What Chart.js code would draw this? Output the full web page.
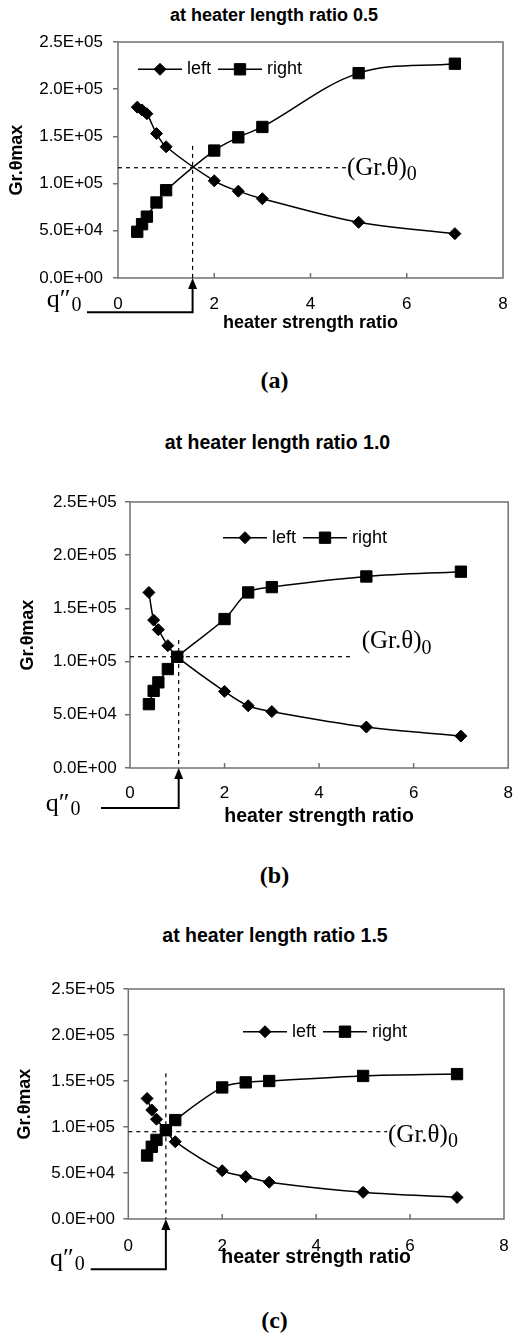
<!DOCTYPE html>
<html>
<head>
<meta charset="utf-8">
<title>Gr.θmax vs heater strength ratio</title>
<script src="https://cdn.jsdelivr.net/npm/chart.js"></script>
<style>
    body { margin: 0; background: #fff; }
    #page { position: relative; width: 528px; height: 1341px; overflow: hidden; background: #fff; }
    #page canvas { position: absolute; left: 0; }
    .panelTitle { position: absolute; width: 400px; text-align: center; font-family: "Liberation Sans", Arial, sans-serif; font-weight: bold; line-height: 24px; color: #000; }
    .panelTag { position: absolute; width: 100px; text-align: center; font-family: "Liberation Serif", "Times New Roman", serif; font-weight: bold; font-size: 24px; line-height: 28px; color: #000; }
</style>
</head>
<body>
<div id="page"></div>

<script type="text/javascript">

    // heater strength ratio (x) shared by all three panels
    var strengthRatio = [0.4, 0.5, 0.6, 0.8, 1.0, 2.0, 2.5, 3.0, 5.0, 7.0];

    // Gr.θmax, heater length ratio 0.5
    var leftA = [181000, 178000, 174000, 153000, 139000, 103000, 92000, 84000, 59000, 47000];
    var rightA = [49000, 57000, 65000, 80000, 93000, 135000, 149000, 160000, 217000, 227000];
    // heater length ratio 1.0
    var leftB = [165000, 139000, 130000, 115000, 104500, 72000, 58500, 53000, 38500, 30000];
    var rightB = [60000, 72500, 80500, 93000, 104500, 140000, 165000, 170000, 180000, 184500];
    // heater length ratio 1.5
    var leftC = [131000, 118500, 108500, 96500, 84000, 52500, 46000, 40000, 29000, 23500];
    var rightC = [69000, 78500, 86000, 96500, 107500, 143000, 148500, 150000, 155500, 157500];

    var seriesNames = ['left', 'right'];
    var lengthRatios = ['0.5', '1.0', '1.5'];
    var panelTags = ['(a)', '(b)', '(c)'];

    var xRange = [0, 8];
    var xStep = 2;
    var yRange = [0, 250000];
    var yStep = 50000;

    // crossing point q''0 / (Gr.θ)0 and the dashed guide extents
    var crossX = [1.55, 1.03, 0.80];
    var crossY = [116800, 104600, 94900];
    var guideTop = [140000, 120300, 158400];
    var guideEnd = [4.75, 4.72, 5.51];

    var seriesData = [[leftA, rightA], [leftB, rightB], [leftC, rightC]];

    // page layout of each panel (pixels)
    var panels = [
        { top: 0, h: 345, l: 118, r: 503, t: 42, b: 278, titleX: 274, titleY: 15, titleSize: 18, tagY: 380,
          xTickY: 304, xTitleY: 323, xTitleSize: 18, yTitleX: 17, yTickGap: 10,
          legend: [138, 69.3], note: [4.758, 116500], arrowY: 312.3, arrowLeft: 87, q: [46.7, 306.7] },
        { top: 430, h: 410, l: 130, r: 517, t: 502, b: 768, titleX: 277.5, titleY: 441.7, titleSize: 19.5, tagY: 875,
          xTickY: 793.3, xTitleY: 817, xTitleSize: 19.5, yTitleX: 28, yTickGap: 8.3,
          legend: [223, 537.7], note: [4.90, 118700], arrowY: 808, arrowLeft: 101, q: [45.7, 810.7] },
        { top: 900, h: 380, l: 128.3, r: 504, t: 989, b: 1219, titleX: 275, titleY: 935, titleSize: 19.5, tagY: 1320,
          xTickY: 1246.3, xTitleY: 1257.5, xTitleSize: 19.5, yTitleX: 25, yTickGap: 8.3,
          legend: [243, 1031.7], note: [5.53, 91300], arrowY: 1269.3, arrowLeft: 90.7, q: [50, 1266] }
    ];

    var SANS = '"Liberation Sans", Arial, sans-serif';
    var SERIF = '"Liberation Serif", "Times New Roman", serif';
    var FRAME = '#707070';
    var TICK_SIZE = 17;

    Chart.defaults.font.family = SANS;
    Chart.defaults.font.size = TICK_SIZE;
    Chart.defaults.color = '#000';

    function sci(v) {
        var p = Number(v).toExponential(1).split('e');
        var e = parseInt(p[1], 10);
        return p[0] + 'E' + (e < 0 ? '-' : '+') + String(Math.abs(e)).padStart(2, '0');
    }

    var extras = {
        id: 'extras',
        beforeDatasetsDraw: function (chart) {
            var a = chart.chartArea, ctx = chart.ctx;
            ctx.save();
            ctx.strokeStyle = FRAME;
            ctx.lineWidth = 1.5;
            ctx.strokeRect(a.left, a.top, a.right - a.left, a.bottom - a.top);
            // inward tick marks on the x axis
            var xs = chart.scales.x;
            xs.ticks.forEach(function (t) {
                if (t.value <= xs.min || t.value >= xs.max) return;
                var px = xs.getPixelForValue(t.value);
                ctx.beginPath();
                ctx.moveTo(px, a.bottom);
                ctx.lineTo(px, a.bottom - 5);
                ctx.stroke();
            });
            ctx.restore();
        },
        afterDatasetsDraw: function (chart, args, o) {
            var a = chart.chartArea, ctx = chart.ctx;
            var xs = chart.scales.x, ys = chart.scales.y;
            ctx.save();
            ctx.fillStyle = '#000';
            ctx.strokeStyle = '#000';

            // legend: line + marker + label
            var lx = o.legend[0], ly = o.legend[1];
            ctx.font = '18px ' + SANS;
            ctx.textBaseline = 'middle';
            chart.data.datasets.forEach(function (d) {
                if (!d.label) return;
                ctx.lineWidth = 1.5;
                ctx.beginPath();
                ctx.moveTo(lx, ly);
                ctx.lineTo(lx + 44, ly);
                ctx.stroke();
                ctx.lineWidth = 1;
                Chart.helpers.drawPoint(ctx, { pointStyle: d.pointStyle, radius: d.pointRadius, rotation: 0, borderWidth: 1 }, lx + 22, ly);
                ctx.fillText(d.label, lx + 49, ly);
                lx += 49 + ctx.measureText(d.label).width + 7;
            });

            // (Gr.θ)0 label
            var nx = xs.getPixelForValue(o.note[0]), ny = ys.getPixelForValue(o.note[1]);
            ctx.font = '25px ' + SERIF;
            ctx.textBaseline = 'middle';
            ctx.fillText('(Gr.θ)', nx, ny);
            var w = ctx.measureText('(Gr.θ)').width;
            ctx.font = '20px ' + SERIF;
            ctx.fillText('0', nx + w, ny + 7);

            // arrow from q''0 up to the crossing on the x axis
            var ax = xs.getPixelForValue(o.cross);
            ctx.beginPath();
            ctx.moveTo(ax, a.bottom);
            ctx.lineTo(ax - 4.5, a.bottom + 11);
            ctx.lineTo(ax + 4.5, a.bottom + 11);
            ctx.closePath();
            ctx.fill();
            ctx.lineWidth = 2;
            ctx.beginPath();
            ctx.moveTo(ax, a.bottom + 10);
            ctx.lineTo(ax, o.arrowY);
            ctx.lineTo(o.arrowLeft, o.arrowY);
            ctx.stroke();

            ctx.textBaseline = 'alphabetic';
            ctx.font = '26px ' + SERIF;
            ctx.fillText('q\u2033', o.q[0], o.q[1]);
            var qw = ctx.measureText('q\u2033').width;
            ctx.font = '20px ' + SERIF;
            ctx.fillText('0', o.q[0] + qw + 1, o.q[1] + 4);
            ctx.restore();
        }
    };

    function points(ys) {
        return strengthRatio.map(function (x, i) { return { x: x, y: ys[i] }; });
    }

    function makePanel(i) {
        var p = panels[i];
        var page = document.getElementById('page');

        var title = document.createElement('div');
        title.className = 'panelTitle';
        title.style.left = (p.titleX - 200) + 'px';
        title.style.top = (p.titleY - 12) + 'px';
        title.style.fontSize = p.titleSize + 'px';
        title.textContent = 'at heater length ratio ' + lengthRatios[i];
        page.appendChild(title);

        var tag = document.createElement('div');
        tag.className = 'panelTag';
        tag.style.left = (274.5 - 50) + 'px';
        tag.style.top = (p.tagY - 14) + 'px';
        tag.textContent = panelTags[i];
        page.appendChild(tag);

        var canvas = document.createElement('canvas');
        canvas.width = 528;
        canvas.height = p.h;
        canvas.style.top = p.top + 'px';
        page.appendChild(canvas);

        var local = function (y) { return y - p.top; };
        var yTitleLh = 18 * 1.2;
        var xTitleLh = p.xTitleSize * 1.2;
        var series = seriesData[i];
        var tickFont = { family: SANS, size: TICK_SIZE };

        new Chart(canvas, {
            type: 'scatter',
            data: {
                datasets: [
                    {
                        label: seriesNames[0], data: points(series[0]), showLine: true,
                        borderColor: '#000', backgroundColor: '#000', borderWidth: 1.5, tension: 0.35,
                        pointStyle: 'rectRot', pointRadius: 6, pointBorderWidth: 1
                    },
                    {
                        label: seriesNames[1], data: points(series[1]), showLine: true,
                        borderColor: '#000', backgroundColor: '#000', borderWidth: 1.5, tension: 0.35,
                        pointStyle: 'rect', pointRadius: 8, pointBorderWidth: 1
                    },
                    {
                        label: '', data: [{ x: xRange[0], y: crossY[i] }, { x: guideEnd[i], y: crossY[i] }], showLine: true,
                        borderColor: '#000', borderWidth: 1.2, borderDash: [4, 4], pointRadius: 0, tension: 0
                    },
                    {
                        label: '', data: [{ x: crossX[i], y: guideTop[i] }, { x: crossX[i], y: yRange[0] }], showLine: true,
                        borderColor: '#000', borderWidth: 1.2, borderDash: [4, 4], pointRadius: 0, tension: 0
                    }
                ]
            },
            options: {
                responsive: false,
                animation: false,
                layout: { padding: { left: 0, right: 528 - p.r, top: local(p.t), bottom: 0 } },
                plugins: {
                    legend: { display: false },
                    tooltip: { enabled: false },
                    extras: {
                        legend: [p.legend[0], local(p.legend[1])],
                        note: p.note,
                        cross: crossX[i],
                        arrowY: local(p.arrowY),
                        arrowLeft: p.arrowLeft,
                        q: [p.q[0], local(p.q[1])]
                    }
                },
                scales: {
                    x: {
                        type: 'linear', min: xRange[0], max: xRange[1],
                        ticks: {
                            stepSize: xStep, color: '#000', font: tickFont,
                            padding: p.xTickY - p.b - 0.6 * TICK_SIZE
                        },
                        grid: { display: false, drawTicks: false },
                        border: { display: false },
                        title: {
                            display: true, text: 'heater strength ratio', color: '#000',
                            font: { family: SANS, size: p.xTitleSize, weight: 'bold' },
                            padding: { top: 0, bottom: p.h - local(p.xTitleY) - xTitleLh / 2 }
                        },
                        afterFit: function (s) { s.height = p.h - local(p.b); }
                    },
                    y: {
                        type: 'linear', min: yRange[0], max: yRange[1],
                        ticks: {
                            stepSize: yStep, color: '#000', font: tickFont,
                            padding: p.yTickGap, callback: function (v) { return sci(v); }
                        },
                        grid: { display: true, drawOnChartArea: false, drawTicks: true, tickLength: 5, color: FRAME, lineWidth: 1.5 },
                        border: { display: false },
                        title: {
                            display: true, text: 'Gr.θmax', color: '#000',
                            font: { family: SANS, size: 18, weight: 'bold' },
                            padding: { top: p.yTitleX - yTitleLh / 2, bottom: 0 }
                        },
                        afterFit: function (s) { s.width = p.l; }
                    }
                }
            },
            plugins: [extras]
        });
    }

    for (var i = 0; i < panels.length; i++) {
        makePanel(i);
    }

</script>
</body>
</html>
